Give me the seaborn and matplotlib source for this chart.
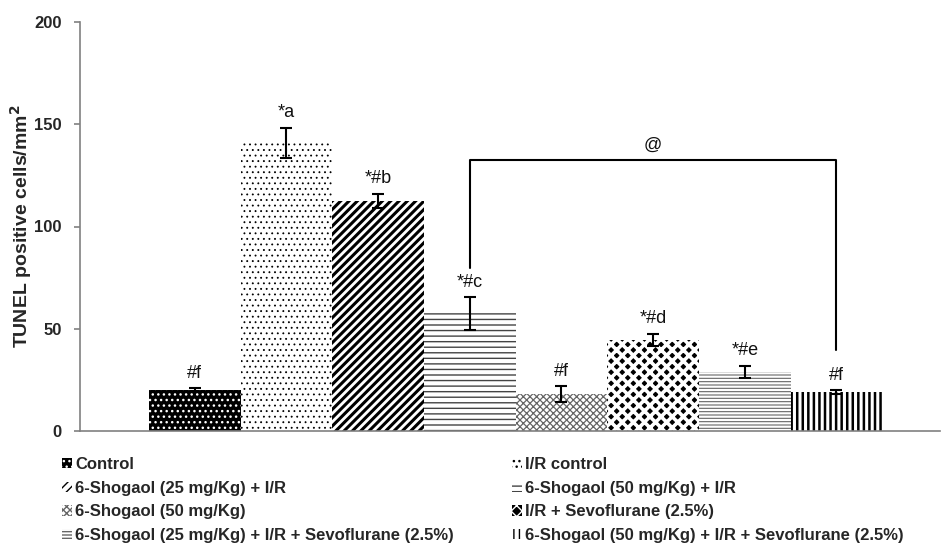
import matplotlib
matplotlib.use("Agg")
import matplotlib.pyplot as plt
import seaborn as sns
import numpy as np
import pandas as pd

categories = [
    "Control",
    "I/R control",
    "6-Shogaol (25 mg/Kg) + I/R",
    "6-Shogaol (50 mg/Kg) + I/R",
    "6-Shogaol (50 mg/Kg)",
    "I/R + Sevoflurane (2.5%)",
    "6-Shogaol (25 mg/Kg) + I/R + Sevoflurane (2.5%)",
    "6-Shogaol (50 mg/Kg) + I/R + Sevoflurane (2.5%)",
]
means = [20, 141, 112.5, 57.5, 18, 44.5, 29, 19]
errors = [1, 7.3, 3.6, 8, 3.8, 3, 3, 1]
labels = ["#f", "*a", "*#b", "*#c", "#f", "*#d", "*#e", "#f"]
yticks = [0, 50, 100, 150, 200]
bracket_x = [3, 3, 7, 7]
bracket_y = [79.7, 132.5, 132.5, 39.6]
bracket_label = "@"

sns.set_theme(style="white")
plt.rcParams['font.family'] = ['Liberation Sans', 'DejaVu Sans']

df = pd.DataFrame({"group": categories, "value": means})

fig = plt.figure(figsize=(9.44, 5.53), dpi=100)
ax = fig.add_axes([80/944, 1 - 431/553, (940-80)/944, (431-22)/553])

sns.barplot(data=df, x="group", y="value", order=categories, width=1.0,
            color="white", errorbar=None, ax=ax, saturation=1)

# style: (facecolor, hatchcolor, hatch, hatch linewidth)
styles = [
    ("black", "white", "...", 1.0),
    ("white", "black", "...", 0.6),
    ("white", "black", "////", 2.2),
    ("white", "#444444", "---", 1.0),
    ("white", "#666666", "xxxxx", 0.9),
    ("black", "white", "xxx", 2.6),
    ("white", "#666666", "-----", 0.8),
    ("white", "black", "|||", 1.8),
]
patches = ax.patches[:len(categories)]
for p, (fc, hc, h, lw) in zip(patches, styles):
    p.set_facecolor(fc)
    p.set_edgecolor(hc)
    p.set_hatch(h)
    p.set_linewidth(0)
    if hasattr(p, "set_hatch_linewidth"):
        p.set_hatch_linewidth(lw)

xpos = np.arange(len(categories))
ax.errorbar(xpos, means, yerr=errors, fmt="none", ecolor="black",
            elinewidth=1.5, capsize=4.3, capthick=1.5, zorder=5)

for x, m, e, lab in zip(xpos, means, errors, labels):
    ax.text(x, m + e + 3.2, lab, ha="center", va="bottom", fontsize=13, color="#111111")

ax.plot(bracket_x, bracket_y, color="black", lw=1.5, zorder=4)
ax.text((bracket_x[1] + bracket_x[2]) / 2, bracket_y[1] + 3, bracket_label,
        ha="center", va="bottom", fontsize=13, color="#111111")

ax.set_ylim(0, 200)
ax.set_xlim(-1.253, 8.13)
ax.set_yticks(yticks)
ax.set_yticklabels([str(t) for t in yticks], fontsize=12, fontweight="bold")
ax.set_xticks([])
ax.set_xlabel("")
ax.set_ylabel("TUNEL positive cells/mm$^\\mathbf{2}$", fontsize=14, fontweight="bold", labelpad=0)
for s in ["top", "right"]:
    ax.spines[s].set_visible(False)
for s in ["left", "bottom"]:
    ax.spines[s].set_color("#808080")
    ax.spines[s].set_linewidth(1.2)
ax.tick_params(axis="y", which="both", left=True, length=4, width=1.2, color="#808080", pad=9)

order = [0, 2, 4, 6, 1, 3, 5, 7]
handles = [patches[i] for i in order]
leg_labels = [categories[i] for i in order]
leg = fig.legend(handles, leg_labels, loc="upper left", bbox_to_anchor=(62/944, 1 - 457/553),
                 ncol=2, frameon=False, prop={"weight": "bold", "size": 12},
                 handlelength=0.6, handleheight=0.6, handletextpad=0.2,
                 columnspacing=3.45, labelspacing=0.52, borderaxespad=0, borderpad=0)

fig.savefig("out.png", dpi=100)
